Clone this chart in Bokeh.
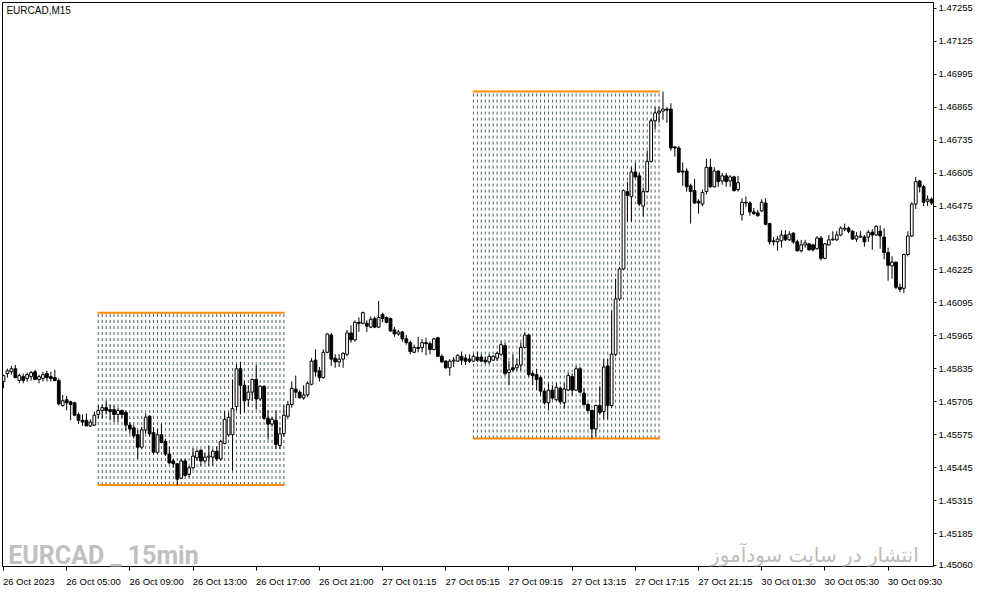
from bokeh.plotting import figure
from bokeh.models import Range1d, FixedTicker, Label, ColumnDataSource, NumeralTickFormatter
from bokeh.embed import file_html
from bokeh.resources import INLINE

# ---------------- data ----------------
title_text = "EURCAD,M15"

opens = [
1.45785,1.45816,1.45823,1.45835,1.45789,1.45804,1.45797,1.45804,1.45823,1.45793,
1.45797,1.45816,1.45804,1.45800,1.45789,1.45690,1.45713,1.45705,1.45701,1.45655,
1.45632,1.45632,1.45610,1.45613,1.45655,1.45671,1.45682,1.45674,1.45674,1.45655,
1.45671,1.45663,1.45613,1.45602,1.45575,1.45526,1.45594,1.45648,1.45583,1.45506,
1.45575,1.45549,1.45499,1.45472,1.45461,1.45404,1.45472,1.45419,1.45445,1.45484,
1.45514,1.45472,1.45487,1.45487,1.45510,1.45480,1.45541,1.45575,1.45575,1.45686,
1.45835,1.45770,1.45713,1.45743,1.45793,1.45716,1.45766,1.45640,1.45617,1.45632,
1.45533,1.45579,1.45648,1.45694,1.45755,1.45743,1.45720,1.45732,1.45774,1.45869,
1.45827,1.45800,1.45900,1.45968,1.45877,1.45862,1.45873,1.45892,1.45976,1.45949,
1.46018,1.46014,1.46014,1.45999,1.46033,1.45999,1.46049,1.46037,1.46033,1.45988,
1.45972,1.45980,1.45953,1.45938,1.45900,1.45919,1.45919,1.45938,1.45934,1.45911,
1.45957,1.45884,1.45865,1.45839,1.45865,1.45865,1.45884,1.45877,1.45873,1.45865,
1.45881,1.45881,1.45869,1.45862,1.45869,1.45877,1.45892,1.45926,1.45820,1.45839,
1.45839,1.45850,1.45919,1.45968,1.45816,1.45812,1.45800,1.45747,1.45701,1.45751,
1.45713,1.45758,1.45701,1.45751,1.45804,1.45751,1.45835,1.45739,1.45694,1.45671,
1.45598,1.45690,1.45667,1.45846,1.45690,1.45892,1.46110,1.46228,1.46533,1.46514,
1.46610,1.46595,1.46476,1.46533,1.46652,1.46812,1.46843,1.46850,1.46858,1.46858,
1.46709,1.46705,1.46614,1.46614,1.46556,1.46537,1.46495,1.46484,1.46533,1.46629,
1.46552,1.46614,1.46575,1.46595,1.46575,1.46591,1.46541,1.46442,1.46488,1.46488,
1.46453,1.46449,1.46457,1.46488,1.46407,1.46339,1.46335,1.46339,1.46362,1.46343,
1.46369,1.46335,1.46300,1.46323,1.46327,1.46323,1.46308,1.46350,1.46270,1.46323,
1.46343,1.46343,1.46362,1.46385,1.46389,1.46377,1.46346,1.46354,1.46354,1.46354,
1.46373,1.46362,1.46377,1.46354,1.46293,1.46240,1.46255,1.46156,1.46152,1.46285,
1.46358,1.46484,1.46575,1.46552,1.46495,1.46503]

highs = [
1.45812,1.45835,1.45846,1.45850,1.45816,1.45816,1.45820,1.45827,1.45831,1.45812,
1.45823,1.45827,1.45823,1.45831,1.45797,1.45732,1.45728,1.45709,1.45705,1.45663,
1.45655,1.45659,1.45636,1.45667,1.45690,1.45694,1.45709,1.45694,1.45690,1.45682,
1.45674,1.45671,1.45625,1.45613,1.45594,1.45606,1.45659,1.45652,1.45606,1.45598,
1.45617,1.45560,1.45529,1.45480,1.45464,1.45480,1.45480,1.45453,1.45522,1.45518,
1.45518,1.45503,1.45533,1.45518,1.45529,1.45556,1.45667,1.45663,1.45793,1.45854,
1.45862,1.45789,1.45770,1.45797,1.45850,1.45770,1.45770,1.45671,1.45644,1.45671,
1.45606,1.45690,1.45709,1.45785,1.45808,1.45751,1.45770,1.45785,1.45877,1.45911,
1.45842,1.45911,1.45976,1.45976,1.45892,1.45892,1.45900,1.45988,1.46006,1.46026,
1.46037,1.46060,1.46026,1.46041,1.46041,1.46102,1.46056,1.46041,1.46037,1.45999,
1.45988,1.45984,1.45968,1.45946,1.45930,1.45961,1.45953,1.45957,1.45942,1.45957,
1.45961,1.45892,1.45869,1.45873,1.45881,1.45892,1.45903,1.45892,1.45892,1.45892,
1.45903,1.45892,1.45884,1.45892,1.45888,1.45903,1.45942,1.45938,1.45865,1.45892,
1.45873,1.45938,1.45980,1.45972,1.45823,1.45835,1.45808,1.45758,1.45778,1.45770,
1.45778,1.45766,1.45778,1.45820,1.45816,1.45846,1.45842,1.45758,1.45701,1.45674,
1.45694,1.45766,1.45873,1.45873,1.46064,1.46190,1.46236,1.46541,1.46572,1.46629,
1.46648,1.46606,1.46549,1.46694,1.46820,1.46866,1.46866,1.46927,1.46866,1.46881,
1.46713,1.46713,1.46648,1.46625,1.46564,1.46583,1.46503,1.46541,1.46663,1.46663,
1.46629,1.46617,1.46606,1.46606,1.46598,1.46595,1.46595,1.46507,1.46514,1.46495,
1.46468,1.46461,1.46503,1.46507,1.46411,1.46354,1.46358,1.46381,1.46381,1.46377,
1.46373,1.46343,1.46343,1.46343,1.46331,1.46327,1.46358,1.46358,1.46331,1.46362,
1.46377,1.46377,1.46396,1.46407,1.46396,1.46381,1.46373,1.46377,1.46362,1.46381,
1.46385,1.46400,1.46400,1.46389,1.46312,1.46278,1.46258,1.46171,1.46289,1.46377,
1.46491,1.46591,1.46579,1.46560,1.46518,1.46510]

lows = [
1.45758,1.45800,1.45812,1.45800,1.45778,1.45778,1.45785,1.45789,1.45793,1.45778,
1.45785,1.45785,1.45785,1.45785,1.45690,1.45686,1.45671,1.45632,1.45648,1.45617,
1.45610,1.45610,1.45606,1.45610,1.45640,1.45640,1.45655,1.45632,1.45625,1.45625,
1.45640,1.45591,1.45579,1.45560,1.45480,1.45518,1.45579,1.45568,1.45499,1.45499,
1.45541,1.45491,1.45461,1.45445,1.45377,1.45400,1.45411,1.45407,1.45438,1.45472,
1.45453,1.45461,1.45453,1.45453,1.45472,1.45472,1.45537,1.45568,1.45434,1.45671,
1.45655,1.45663,1.45686,1.45709,1.45674,1.45709,1.45632,1.45556,1.45606,1.45518,
1.45518,1.45568,1.45636,1.45682,1.45720,1.45720,1.45713,1.45724,1.45770,1.45804,
1.45785,1.45797,1.45896,1.45846,1.45839,1.45842,1.45839,1.45884,1.45938,1.45942,
1.45980,1.46010,1.45980,1.45995,1.45995,1.45995,1.46018,1.46014,1.45980,1.45961,
1.45965,1.45942,1.45930,1.45892,1.45896,1.45900,1.45900,1.45888,1.45892,1.45907,
1.45881,1.45858,1.45835,1.45808,1.45842,1.45862,1.45850,1.45850,1.45858,1.45862,
1.45862,1.45862,1.45854,1.45854,1.45865,1.45865,1.45884,1.45808,1.45770,1.45823,
1.45827,1.45827,1.45915,1.45804,1.45770,1.45751,1.45728,1.45694,1.45671,1.45713,
1.45709,1.45694,1.45678,1.45747,1.45728,1.45747,1.45739,1.45690,1.45663,1.45560,
1.45568,1.45655,1.45636,1.45636,1.45682,1.45884,1.46102,1.46224,1.46415,1.46415,
1.46587,1.46476,1.46434,1.46530,1.46648,1.46778,1.46804,1.46816,1.46804,1.46694,
1.46671,1.46606,1.46556,1.46533,1.46407,1.46484,1.46446,1.46476,1.46522,1.46549,
1.46549,1.46552,1.46560,1.46552,1.46552,1.46533,1.46533,1.46419,1.46472,1.46438,
1.46442,1.46434,1.46453,1.46400,1.46324,1.46320,1.46300,1.46312,1.46339,1.46339,
1.46327,1.46297,1.46293,1.46312,1.46300,1.46297,1.46304,1.46262,1.46266,1.46320,
1.46339,1.46339,1.46358,1.46377,1.46369,1.46343,1.46335,1.46350,1.46316,1.46335,
1.46304,1.46358,1.46308,1.46266,1.46182,1.46190,1.46148,1.46137,1.46133,1.46278,
1.46354,1.46465,1.46530,1.46476,1.46476,1.46480]

closes = [
1.45808,1.45827,1.45835,1.45800,1.45808,1.45789,1.45812,1.45820,1.45793,1.45804,
1.45812,1.45800,1.45797,1.45789,1.45697,1.45709,1.45701,1.45694,1.45652,1.45632,
1.45625,1.45610,1.45625,1.45652,1.45671,1.45682,1.45671,1.45667,1.45655,1.45671,
1.45655,1.45613,1.45598,1.45571,1.45526,1.45594,1.45644,1.45579,1.45506,1.45575,
1.45545,1.45499,1.45464,1.45461,1.45400,1.45472,1.45415,1.45445,1.45491,1.45510,
1.45472,1.45487,1.45491,1.45510,1.45480,1.45549,1.45636,1.45644,1.45678,1.45835,
1.45770,1.45709,1.45743,1.45793,1.45716,1.45766,1.45640,1.45617,1.45636,1.45537,
1.45579,1.45652,1.45694,1.45758,1.45743,1.45720,1.45732,1.45778,1.45865,1.45823,
1.45800,1.45900,1.45972,1.45873,1.45862,1.45873,1.45896,1.45976,1.45949,1.46018,
1.46014,1.46056,1.46003,1.46030,1.45999,1.46037,1.46033,1.46018,1.45984,1.45972,
1.45980,1.45953,1.45938,1.45903,1.45919,1.45915,1.45938,1.45934,1.45911,1.45953,
1.45884,1.45862,1.45839,1.45865,1.45869,1.45888,1.45869,1.45865,1.45865,1.45884,
1.45869,1.45865,1.45862,1.45884,1.45884,1.45896,1.45930,1.45816,1.45831,1.45831,
1.45850,1.45919,1.45968,1.45812,1.45808,1.45793,1.45747,1.45701,1.45751,1.45720,
1.45762,1.45705,1.45755,1.45808,1.45751,1.45835,1.45743,1.45694,1.45671,1.45598,
1.45690,1.45663,1.45842,1.45690,1.45892,1.46110,1.46228,1.46537,1.46518,1.46610,
1.46591,1.46484,1.46533,1.46652,1.46812,1.46843,1.46850,1.46858,1.46854,1.46705,
1.46705,1.46610,1.46610,1.46552,1.46533,1.46488,1.46488,1.46530,1.46629,1.46552,
1.46614,1.46572,1.46595,1.46572,1.46591,1.46537,1.46568,1.46491,1.46491,1.46453,
1.46446,1.46438,1.46491,1.46404,1.46335,1.46335,1.46346,1.46362,1.46343,1.46365,
1.46335,1.46300,1.46323,1.46331,1.46304,1.46304,1.46350,1.46270,1.46327,1.46343,
1.46346,1.46362,1.46389,1.46389,1.46377,1.46346,1.46358,1.46358,1.46335,1.46373,
1.46362,1.46396,1.46358,1.46293,1.46243,1.46255,1.46156,1.46148,1.46285,1.46358,
1.46484,1.46572,1.46552,1.46491,1.46503,1.46488]

# session boxes (bar index range and price range)
box_start_bar = [24, 119]
box_end_bar = [71, 166]
box_high = [1.46056, 1.46927]
box_low = [1.45377, 1.45560]

# axis ticks
x_tick_bars = [0, 16, 32, 48, 64, 80, 96, 112, 128, 144, 160, 176, 192, 208, 224]
x_tick_labels = ["26 Oct 2023", "26 Oct 05:00", "26 Oct 09:00", "26 Oct 13:00",
                 "26 Oct 17:00", "26 Oct 21:00", "27 Oct 01:15", "27 Oct 05:15",
                 "27 Oct 09:15", "27 Oct 13:15", "27 Oct 17:15", "27 Oct 21:15",
                 "30 Oct 01:30", "30 Oct 05:30", "30 Oct 09:30"]
y_tick_labels = ["1.47255", "1.47125", "1.46995", "1.46865", "1.46735", "1.46605",
                 "1.46475", "1.46350", "1.46225", "1.46095", "1.45965", "1.45835",
                 "1.45705", "1.45575", "1.45445", "1.45315", "1.45185", "1.45060"]

watermark_left = "EURCAD _ 15min"
watermark_right = "انتشار در سایت سودآموز"

# ---------------- figure ----------------
AXIS_FONT = "Liberation Sans"
p = figure(width=975, height=589,
           x_range=Range1d(-0.25, 235.5), y_range=Range1d(1.45056, 1.47278),
           output_backend="svg", toolbar_location=None, y_axis_location="right",
           min_border_left=2, min_border_top=2, min_border_right=0, min_border_bottom=0)
p.background_fill_color = "white"
p.border_fill_color = "white"
p.outline_line_color = "black"
p.outline_line_width = 1
p.xgrid.visible = False
p.ygrid.visible = False

# right price axis
yv = [float(s) for s in y_tick_labels]
p.yaxis.ticker = FixedTicker(ticks=yv)
p.yaxis.formatter = NumeralTickFormatter(format="0.00000")
p.yaxis.axis_line_color = "black"
p.yaxis.major_tick_line_color = "black"
p.yaxis.major_tick_out = 3
p.yaxis.major_tick_in = 0
p.yaxis.minor_tick_line_color = None
p.yaxis.major_label_standoff = 2
p.yaxis.major_label_text_font = AXIS_FONT
p.yaxis.major_label_text_font_size = "9.5px"
p.yaxis.major_label_text_color = "black"

# bottom time axis: tick marks as minor ticks, labels left-aligned after each tick
label_centers = [b + (6.4 if i == 0 else 6.8) for i, b in enumerate(x_tick_bars)]
p.xaxis.ticker = FixedTicker(ticks=label_centers, minor_ticks=[float(b) for b in x_tick_bars])
p.xaxis.major_label_overrides = {c: s for c, s in zip(label_centers, x_tick_labels)}
p.xaxis.axis_line_color = "black"
p.xaxis.major_tick_line_color = None
p.xaxis.minor_tick_line_color = "black"
p.xaxis.minor_tick_out = 4
p.xaxis.minor_tick_in = 0
p.xaxis.major_label_standoff = 3
p.xaxis.major_label_text_font = AXIS_FONT
p.xaxis.major_label_text_font_size = "9.5px"
p.xaxis.major_label_text_color = "black"

# session boxes: dotted columns + orange high/low lines
col_x, col_y0, col_y1 = [], [], []
for s, e, hi, lo in zip(box_start_bar, box_end_bar, box_high, box_low):
    for k in range(s, e + 1):
        col_x.append(k)
        col_y0.append(lo)
        col_y1.append(hi)
p.segment(x0=col_x, y0=col_y0, x1=col_x, y1=col_y1, line_color="#2f4f4f",
          line_width=0.9, line_dash="3 3")
hx0 = [s - 0.15 for s in box_start_bar]
hx1 = [e + 0.2 for e in box_end_bar]
p.segment(x0=hx0, y0=box_high, x1=hx1, y1=box_high, line_color="#ff8c00", line_width=2)
p.segment(x0=hx0, y0=box_low, x1=hx1, y1=box_low, line_color="#ff8c00", line_width=2)

# candles
bars = list(range(len(opens)))
src = ColumnDataSource(dict(
    x=bars, o=opens, h=highs, l=lows, c=closes,
    top=[max(o, c) for o, c in zip(opens, closes)],
    bottom=[min(o, c) for o, c in zip(opens, closes)],
    fill=["white" if c >= o else "black" for o, c in zip(opens, closes)],
))
p.segment(x0="x", y0="l", x1="x", y1="h", source=src, line_color="black", line_width=1)
p.vbar(x="x", width=0.7, top="top", bottom="bottom", source=src,
       fill_color="fill", line_color="black", line_width=1)

# texts
p.add_layout(Label(x=0.75, y=1.47268, text=title_text, text_font=AXIS_FONT,
                   text_font_size="10px", text_color="black", text_baseline="top"))
p.add_layout(Label(x=1.2, y=1.45100, text=watermark_left, text_font="Roboto",
                   text_font_style="bold", text_font_size="25px", text_color="#c0c0c0",
                   text_baseline="alphabetic"))
p.add_layout(Label(x=231.75, y=1.45100, text=watermark_right, text_font="DejaVu Sans",
                   text_font_size="20px", text_color="#bdbdbd", text_align="right",
                   text_baseline="alphabetic"))

open("out.html", "w").write(file_html(p, INLINE))
